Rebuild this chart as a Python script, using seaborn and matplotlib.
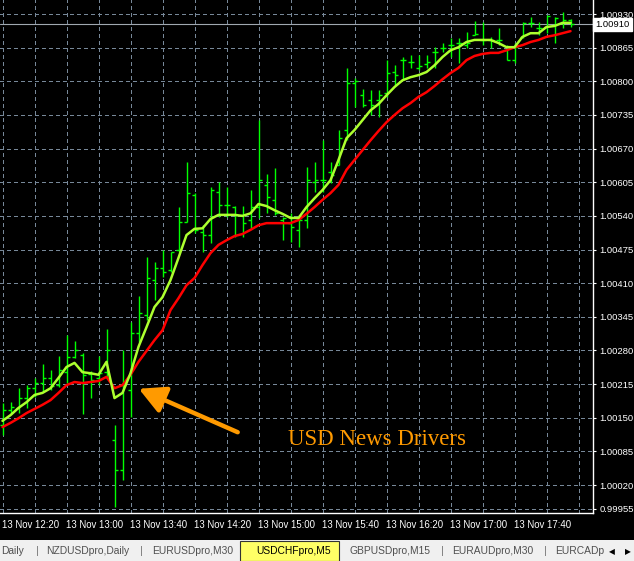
import numpy as np
import pandas as pd
import matplotlib
matplotlib.use("Agg")
import matplotlib.pyplot as plt
from matplotlib.ticker import FixedLocator
import seaborn as sns

# ---------------- data (USDCHFpro, M5) ----------------
opens = [1.00136, 1.00165, 1.00169, 1.00188, 1.00207, 1.00217, 1.00227, 1.00213, 1.00238, 1.00267,
         1.00271, 1.00234, 1.00227, 1.00238, 1.00107, 1.00049, 1.00204, 1.00314, 1.00348, 1.00416,
         1.00439, 1.00435, 1.00474, 1.00528, 1.00580, 1.00509, 1.00503, 1.00586, 1.00561, 1.00557,
         1.00542, 1.00532, 1.00557, 1.00600, 1.00571, 1.00532, 1.00526, 1.00513, 1.00532, 1.00605,
         1.00609, 1.00625, 1.00638, 1.00706, 1.00797, 1.00773, 1.00764, 1.00764, 1.00777, 1.00818,
         1.00841, 1.00837, 1.00826, 1.00833, 1.00857, 1.00864, 1.00870, 1.00874, 1.00870, 1.00889,
         1.00880, 1.00880, 1.00880, 1.00860, 1.00841, 1.00886, 1.00913, 1.00903, 1.00905, 1.00909,
         1.00913, 1.00918]
highs = [1.00178, 1.00180, 1.00207, 1.00213, 1.00227, 1.00254, 1.00242, 1.00269, 1.00310, 1.00298,
         1.00275, 1.00240, 1.00269, 1.00321, 1.00136, 1.00281, 1.00335, 1.00385, 1.00460, 1.00451,
         1.00474, 1.00470, 1.00557, 1.00644, 1.00584, 1.00522, 1.00596, 1.00605, 1.00596, 1.00559,
         1.00559, 1.00590, 1.00725, 1.00621, 1.00632, 1.00538, 1.00545, 1.00542, 1.00634, 1.00644,
         1.00686, 1.00644, 1.00706, 1.00826, 1.00806, 1.00785, 1.00783, 1.00783, 1.00841, 1.00831,
         1.00847, 1.00851, 1.00851, 1.00851, 1.00866, 1.00874, 1.00884, 1.00884, 1.00895, 1.00916,
         1.00914, 1.00886, 1.00903, 1.00870, 1.00874, 1.00914, 1.00924, 1.00914, 1.00928, 1.00924,
         1.00934, 1.00920]
lows = [1.00117, 1.00159, 1.00159, 1.00169, 1.00190, 1.00200, 1.00204, 1.00209, 1.00217, 1.00265,
        1.00157, 1.00188, 1.00213, 1.00227, 0.99978, 1.00030, 1.00151, 1.00296, 1.00339, 1.00377,
        1.00422, 1.00431, 1.00470, 1.00528, 1.00507, 1.00470, 1.00487, 1.00538, 1.00538, 1.00499,
        1.00499, 1.00516, 1.00536, 1.00545, 1.00542, 1.00493, 1.00489, 1.00480, 1.00516, 1.00586,
        1.00586, 1.00603, 1.00638, 1.00686, 1.00750, 1.00750, 1.00735, 1.00731, 1.00770, 1.00793,
        1.00802, 1.00826, 1.00822, 1.00826, 1.00826, 1.00857, 1.00847, 1.00835, 1.00864, 1.00889,
        1.00870, 1.00864, 1.00870, 1.00841, 1.00835, 1.00884, 1.00905, 1.00889, 1.00893, 1.00874,
        1.00903, 1.00905]
closes = [1.00165, 1.00171, 1.00188, 1.00207, 1.00217, 1.00227, 1.00211, 1.00242, 1.00267, 1.00281,
          1.00233, 1.00223, 1.00236, 1.00281, 1.00049, 1.00213, 1.00314, 1.00352, 1.00420, 1.00439,
          1.00431, 1.00470, 1.00528, 1.00584, 1.00513, 1.00503, 1.00590, 1.00561, 1.00561, 1.00542,
          1.00526, 1.00557, 1.00609, 1.00576, 1.00545, 1.00536, 1.00518, 1.00532, 1.00609, 1.00609,
          1.00609, 1.00619, 1.00690, 1.00797, 1.00800, 1.00754, 1.00754, 1.00773, 1.00816, 1.00812,
          1.00841, 1.00837, 1.00829, 1.00837, 1.00857, 1.00864, 1.00870, 1.00874, 1.00874, 1.00891,
          1.00880, 1.00880, 1.00880, 1.00841, 1.00866, 1.00913, 1.00913, 1.00903, 1.00926, 1.00922,
          1.00918, 1.00910]
ma_fast = [1.00144, 1.00155, 1.00169, 1.00180, 1.00194, 1.00198, 1.00207, 1.00227, 1.00248, 1.00256,
           1.00238, 1.00236, 1.00233, 1.00258, 1.00188, 1.00198, 1.00236, 1.00287, 1.00325, 1.00364,
           1.00383, 1.00416, 1.00459, 1.00503, 1.00515, 1.00516, 1.00534, 1.00542, 1.00542, 1.00542,
           1.00540, 1.00545, 1.00563, 1.00559, 1.00551, 1.00544, 1.00536, 1.00536, 1.00557, 1.00574,
           1.00590, 1.00609, 1.00648, 1.00690, 1.00706, 1.00725, 1.00744, 1.00756, 1.00773, 1.00789,
           1.00802, 1.00808, 1.00812, 1.00818, 1.00831, 1.00847, 1.00860, 1.00866, 1.00876, 1.00880,
           1.00880, 1.00880, 1.00874, 1.00866, 1.00866, 1.00886, 1.00893, 1.00893, 1.00905, 1.00907,
           1.00913, 1.00913]
ma_slow = [1.00132, 1.00140, 1.00149, 1.00159, 1.00167, 1.00175, 1.00184, 1.00198, 1.00213, 1.00219,
           1.00217, 1.00219, 1.00221, 1.00229, 1.00207, 1.00213, 1.00233, 1.00258, 1.00279, 1.00300,
           1.00319, 1.00358, 1.00381, 1.00406, 1.00420, 1.00445, 1.00468, 1.00484, 1.00493, 1.00501,
           1.00505, 1.00513, 1.00522, 1.00526, 1.00526, 1.00526, 1.00526, 1.00532, 1.00544, 1.00557,
           1.00571, 1.00584, 1.00600, 1.00629, 1.00648, 1.00667, 1.00686, 1.00704, 1.00721, 1.00735,
           1.00748, 1.00758, 1.00770, 1.00779, 1.00791, 1.00804, 1.00816, 1.00826, 1.00841, 1.00849,
           1.00853, 1.00855, 1.00855, 1.00860, 1.00866, 1.00870, 1.00876, 1.00880, 1.00886, 1.00889,
           1.00893, 1.00897]
time_labels = ["13 Nov 12:20", "13 Nov 13:00", "13 Nov 13:40", "13 Nov 14:20", "13 Nov 15:00",
               "13 Nov 15:40", "13 Nov 16:20", "13 Nov 17:00", "13 Nov 17:40"]
price_labels = ["0.99955", "1.00020", "1.00085", "1.00150", "1.00215", "1.00280", "1.00345",
                "1.00410", "1.00475", "1.00540", "1.00605", "1.00670", "1.00735", "1.00800",
                "1.00865", "1.00930"]
current_price = 1.00910
note_text = "USD News Drivers"
tab_names = ["Daily", "NZDUSDpro,Daily", "EURUSDpro,M30", "USDCHFpro,M5",
             "GBPUSDpro,M15", "EURAUDpro,M30", "EURCADp"]
active_tab = "USDCHFpro,M5"

# ---------------- styling ----------------
sns.set_theme(style="dark")
plt.rcParams["font.family"] = ["Liberation Sans", "DejaVu Sans"]
plt.rcParams["lines.scale_dashes"] = False

W, H = 634, 561
fig = plt.figure(figsize=(W / 100, H / 100), dpi=100, facecolor="black")
AX_W, AX_H, AX_B = 593.0, 513.0, 48.0
ax = fig.add_axes([0, AX_B / H, AX_W / W, AX_H / H])
ax.set_facecolor("black")

df = pd.DataFrame({"bar": np.arange(len(closes)), "open": opens, "high": highs,
                   "low": lows, "close": closes, "fast": ma_fast, "slow": ma_slow})

# scale: 8 px per bar, price per px
ppx = 0.00065 / 33.64
y_lo = 1.00865 - (AX_H - 47.7) * ppx
y_hi = 1.00865 + 47.7 * ppx
x_lo = -2.5 / 8
x_hi = x_lo + AX_W / 8
ax.set_xlim(x_lo, x_hi)
ax.set_ylim(y_lo, y_hi)

bar_green = "#00ff00"
tick = 3 / 8
bar_kw = dict(color=bar_green, lw=1.0, zorder=3)
ax.vlines(df["bar"], df["low"], df["high"], **bar_kw)
ax.hlines(df["open"], df["bar"] - tick, df["bar"], **bar_kw)
ax.hlines(df["close"], df["bar"], df["bar"] + tick, **bar_kw)

sns.lineplot(data=df, x="bar", y="slow", color="#ff0000", lw=1.8, ax=ax, zorder=4)
sns.lineplot(data=df, x="bar", y="fast", color="#adff2f", lw=1.8, ax=ax, zorder=5)

# current price line
ax.axhline(current_price, color="#a0a8b0", lw=0.8, zorder=2)

# y axis on the right
tick_vals = [float(s) for s in price_labels]
tick_pos = [max(v, y_lo + 4 * ppx) for v in tick_vals]
ax.yaxis.tick_right()
ax.set_yticks(tick_pos)
ax.set_yticklabels(price_labels)
ax.tick_params(axis="y", colors="white", length=2.4, width=0.8, pad=2.2,
               labelsize=6.8, labelcolor="white", right=True, left=False)

# x axis
n_bars = len(closes)
major = np.arange(0, n_bars, 8)[:len(time_labels)]
ax.set_xticks(major)
ax.set_xticklabels(time_labels, ha="left")
ax.xaxis.set_minor_locator(FixedLocator(np.arange(0, n_bars + 1, 4)))
ax.tick_params(axis="x", which="both", length=0, pad=5, labelsize=6.9, labelcolor="white")
ax.set_xlabel("")
ax.set_ylabel("")

grid_kw = dict(color="#778899", lw=0.75, linestyle=(0, (2.2, 2.2)), antialiased=False)
ax.grid(False)
ax.grid(True, axis="y", which="major", **grid_kw)
ax.grid(True, axis="x", which="both", **grid_kw)
ax.set_axisbelow(True)

for side in ["left", "top"]:
    ax.spines[side].set_visible(False)
for side in ["right", "bottom"]:
    ax.spines[side].set_visible(True)
    ax.spines[side].set_color("white")
    ax.spines[side].set_linewidth(1.0)

# current price label box
ax.text(1.004, current_price, f"{current_price:.5f}", transform=ax.get_yaxis_transform(),
        ha="left", va="center", fontsize=6.8, color="black", clip_on=False, zorder=10,
        bbox=dict(boxstyle="square,pad=0.2", fc="white", ec="white"))

# annotation arrow + text
orange = "#ff9a00"
ax.annotate("", xy=(17.04, 1.00206), xytext=(29.4, 1.00122),
            arrowprops=dict(arrowstyle="-|>,head_length=0.8,head_width=0.42",
                            mutation_scale=20, color=orange, lw=3.2,
                            shrinkA=0, shrinkB=0), zorder=6)
ax.text(46.8, 1.00107, note_text, ha="center", va="center", color=orange,
        fontsize=16.5, family=["Liberation Serif", "DejaVu Serif"], zorder=6)

# tab bar
tab_ax = fig.add_axes([0, 0, 1, 21 / H])
tab_ax.set_xlim(0, W)
tab_ax.set_ylim(0, 21)
tab_ax.set_facecolor("#f0f0f0")
tab_ax.set_xticks([])
tab_ax.set_yticks([])
for s in tab_ax.spines.values():
    s.set_visible(False)
tab_x = [1, 46, 152, 256, 350, 452, 555]
sep_x = [37, 141, 442, 545]
for name, x in zip(tab_names, tab_x):
    col = "black" if name == active_tab else "#505050"
    if name == active_tab:
        tab_ax.add_patch(plt.Rectangle((240, 0), 99, 20.5, fc="#ffff66", ec="#333333", lw=0.8))
    tab_ax.text(x, 9.5, name, ha="left", va="center", fontsize=7.4, color=col)
for x in sep_x:
    tab_ax.text(x, 9.5, "|", ha="center", va="center", fontsize=8, color="#777777")
tab_ax.text(612, 9.5, "\u25c0", ha="center", va="center", fontsize=5.5, color="black",
            family="DejaVu Sans")
tab_ax.text(628, 9.5, "\u25b6", ha="center", va="center", fontsize=5.5, color="black",
            family="DejaVu Sans")

fig.savefig("out.png", dpi=100, facecolor="black")
